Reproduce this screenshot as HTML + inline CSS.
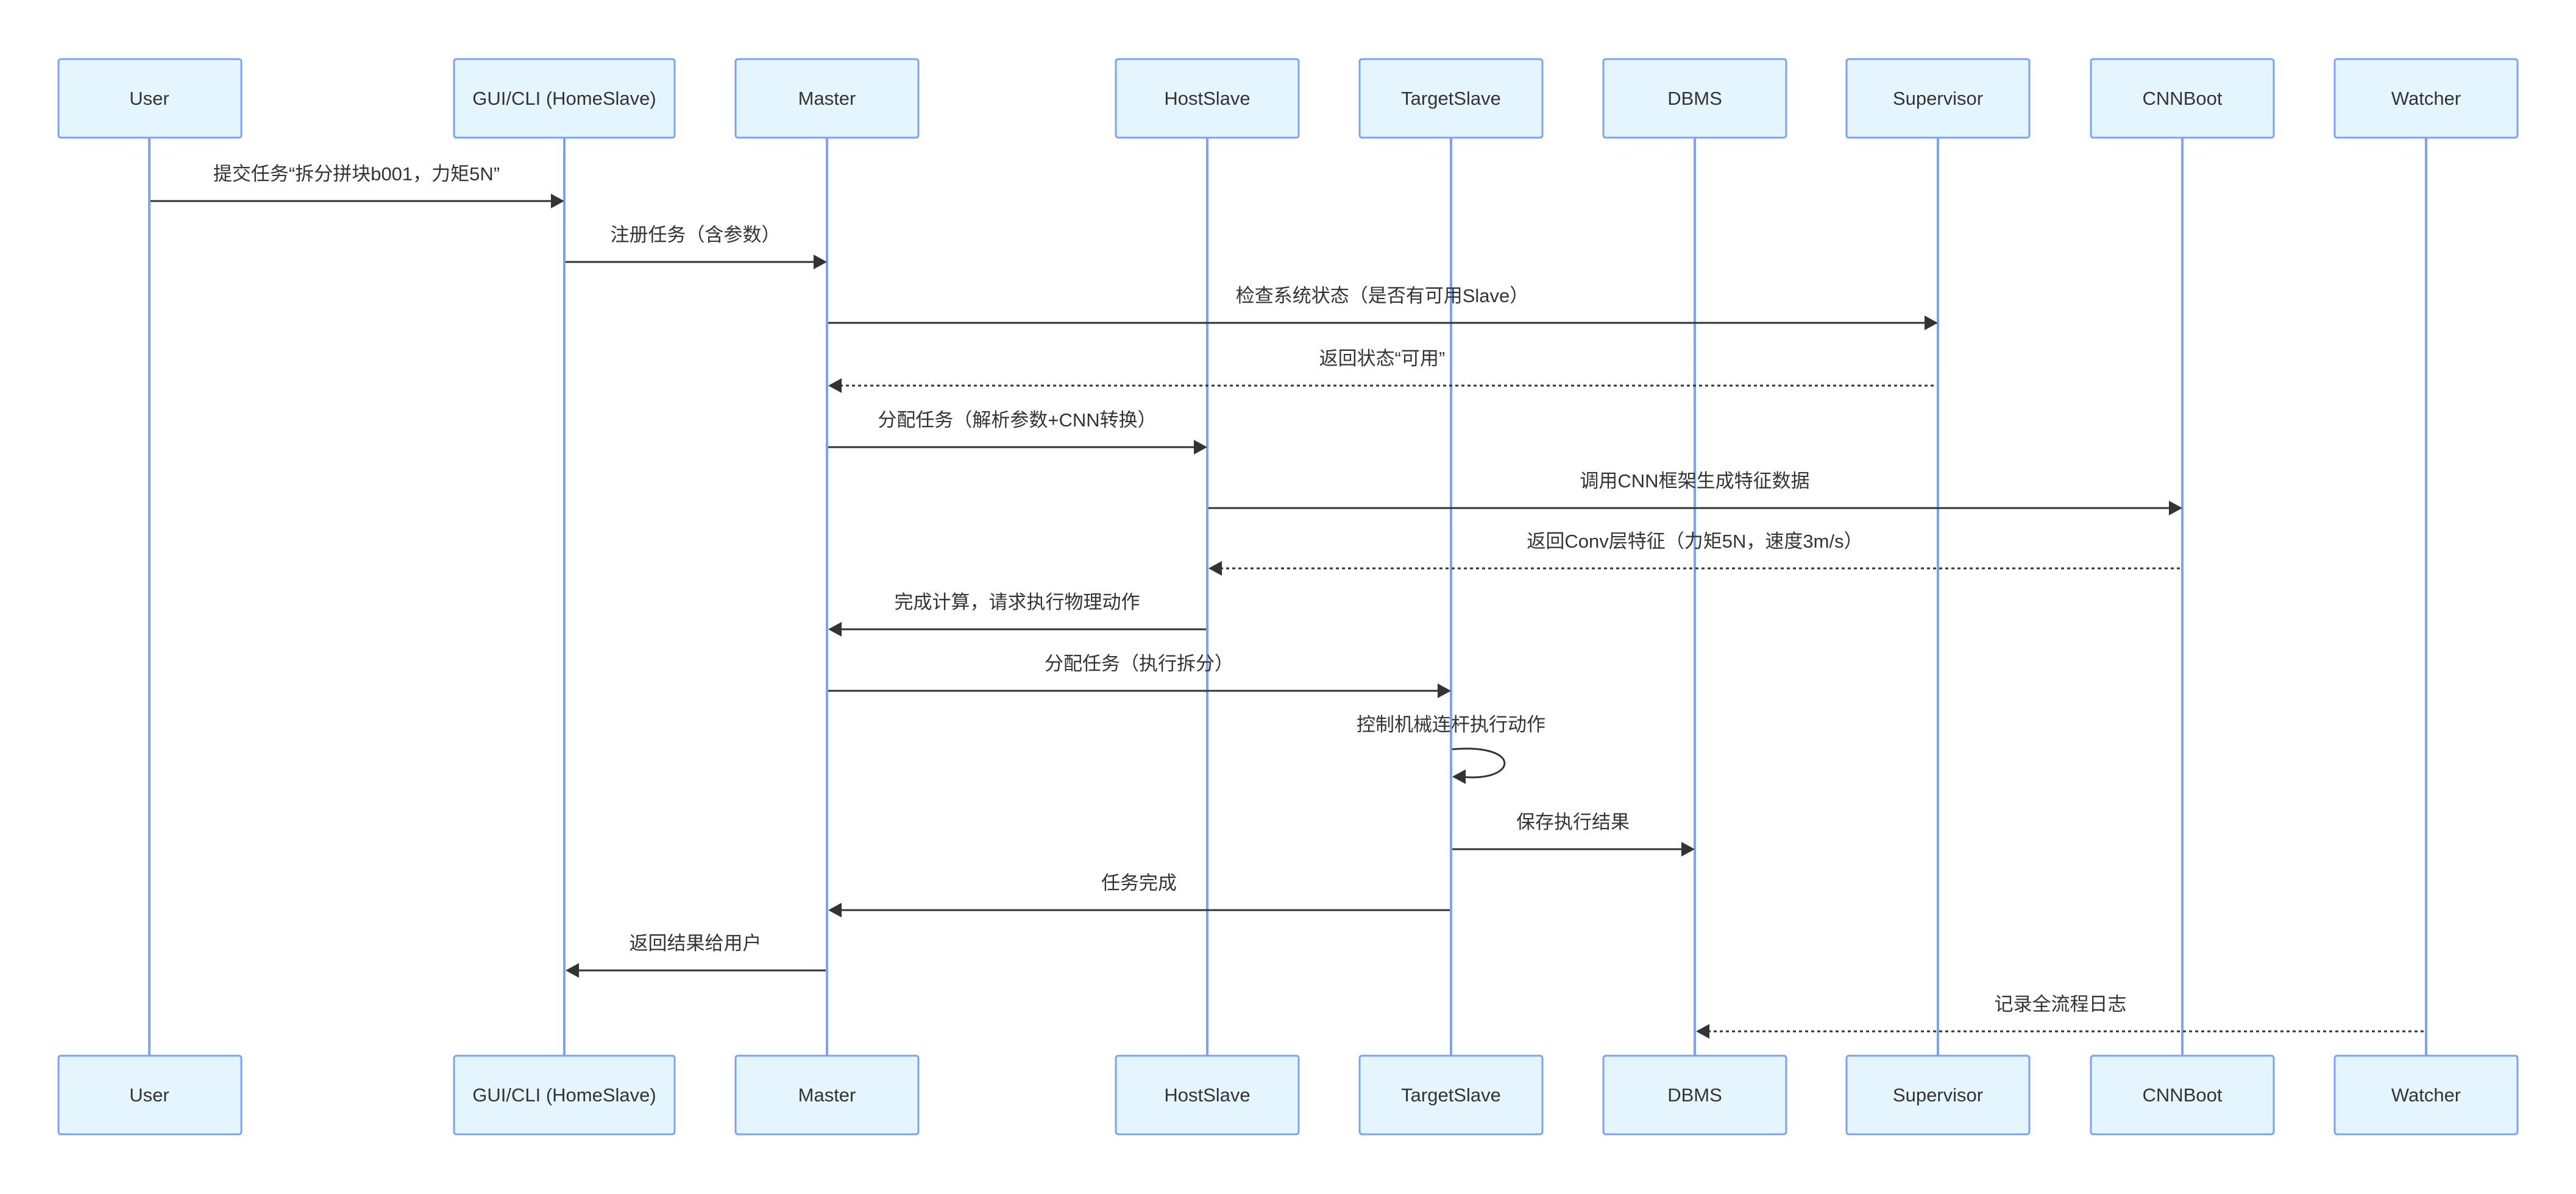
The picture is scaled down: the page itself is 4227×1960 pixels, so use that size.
<!DOCTYPE html>
<html><head><meta charset="utf-8"><style>
html,body{margin:0;padding:0;background:#fff;}
svg{display:block;}
text{font-family:"Liberation Sans","Noto Sans CJK SC",sans-serif;fill:#333;}
</style></head><body>
<svg width="4227" height="1960" viewBox="0 0 4227 1960" xmlns="http://www.w3.org/2000/svg">
<defs>
<marker id="ar" markerWidth="12" markerHeight="12" refX="11" refY="6" orient="auto" markerUnits="userSpaceOnUse" viewBox="0 0 12 12">
</marker>
</defs>
<g stroke="#7aa3f7" stroke-width="4">
<line x1="245" y1="226" x2="245" y2="1733"/>
<line x1="926" y1="226" x2="926" y2="1733"/>
<line x1="1357" y1="226" x2="1357" y2="1733"/>
<line x1="1981" y1="226" x2="1981" y2="1733"/>
<line x1="2381" y1="226" x2="2381" y2="1733"/>
<line x1="2781" y1="226" x2="2781" y2="1733"/>
<line x1="3180" y1="226" x2="3180" y2="1733"/>
<line x1="3581" y1="226" x2="3581" y2="1733"/>
<line x1="3981" y1="226" x2="3981" y2="1733"/>
</g>
<g fill="#e5f5fd" stroke="#7aa3f7" stroke-width="3">
<rect x="96" y="97" width="300" height="129" rx="4"/>
<rect x="745" y="97" width="362" height="129" rx="4"/>
<rect x="1207" y="97" width="300" height="129" rx="4"/>
<rect x="1831" y="97" width="300" height="129" rx="4"/>
<rect x="2231" y="97" width="300" height="129" rx="4"/>
<rect x="2631" y="97" width="300" height="129" rx="4"/>
<rect x="3030" y="97" width="300" height="129" rx="4"/>
<rect x="3431" y="97" width="300" height="129" rx="4"/>
<rect x="3831" y="97" width="300" height="129" rx="4"/>
<rect x="96" y="1733" width="300" height="129" rx="4"/>
<rect x="745" y="1733" width="362" height="129" rx="4"/>
<rect x="1207" y="1733" width="300" height="129" rx="4"/>
<rect x="1831" y="1733" width="300" height="129" rx="4"/>
<rect x="2231" y="1733" width="300" height="129" rx="4"/>
<rect x="2631" y="1733" width="300" height="129" rx="4"/>
<rect x="3030" y="1733" width="300" height="129" rx="4"/>
<rect x="3431" y="1733" width="300" height="129" rx="4"/>
<rect x="3831" y="1733" width="300" height="129" rx="4"/>
</g>
<g font-size="31" text-anchor="middle">
<text x="245" y="172">User</text><text x="926" y="172">GUI/CLI (HomeSlave)</text><text x="1357" y="172">Master</text><text x="1981" y="172">HostSlave</text><text x="2381" y="172">TargetSlave</text><text x="2781" y="172">DBMS</text><text x="3180" y="172">Supervisor</text><text x="3581" y="172">CNNBoot</text><text x="3981" y="172">Watcher</text>
<text x="245" y="1808">User</text><text x="926" y="1808">GUI/CLI (HomeSlave)</text><text x="1357" y="1808">Master</text><text x="1981" y="1808">HostSlave</text><text x="2381" y="1808">TargetSlave</text><text x="2781" y="1808">DBMS</text><text x="3180" y="1808">Supervisor</text><text x="3581" y="1808">CNNBoot</text><text x="3981" y="1808">Watcher</text>
</g>
<g stroke="#333" stroke-width="3" fill="none">
<line x1="247" y1="330" x2="905" y2="330"/>
<line x1="928" y1="430" x2="1336" y2="430"/>
<line x1="1359" y1="530" x2="3159" y2="530"/>
<line x1="1378" y1="633" x2="3178" y2="633" stroke-dasharray="5,5"/>
<line x1="1359" y1="734" x2="1960" y2="734"/>
<line x1="1983" y1="834" x2="3560" y2="834"/>
<line x1="2002" y1="933" x2="3579" y2="933" stroke-dasharray="5,5"/>
<line x1="1378" y1="1033" x2="1979" y2="1033"/>
<line x1="1359" y1="1134" x2="2360" y2="1134"/>
<path d="M2383,1230 C2500,1220 2490,1285 2398,1275"/>
<line x1="2383" y1="1394" x2="2760" y2="1394"/>
<line x1="1378" y1="1494" x2="2379" y2="1494"/>
<line x1="947" y1="1593" x2="1355" y2="1593"/>
<line x1="2802" y1="1693" x2="3979" y2="1693" stroke-dasharray="5,5"/>
</g>
<g fill="#333">
<polygon points="926,330 904,318 904,342"/>
<polygon points="1357,430 1335,418 1335,442"/>
<polygon points="3180,530 3158,518 3158,542"/>
<polygon points="1359,633 1381,621 1381,645"/>
<polygon points="1981,734 1959,722 1959,746"/>
<polygon points="3581,834 3559,822 3559,846"/>
<polygon points="1983,933 2005,921 2005,945"/>
<polygon points="1359,1033 1381,1021 1381,1045"/>
<polygon points="2381,1134 2359,1122 2359,1146"/>
<polygon points="2383,1275 2405,1263 2405,1287"/>
<polygon points="2781,1394 2759,1382 2759,1406"/>
<polygon points="1359,1494 1381,1482 1381,1506"/>
<polygon points="928,1593 950,1581 950,1605"/>
<polygon points="2783,1693 2805,1681 2805,1705"/>
</g>
<g font-size="31" text-anchor="middle">
<text x="585" y="296">提交任务“拆分拼块b001，力矩5N”</text>
<text x="1141" y="396">注册任务（含参数）</text>
<text x="2268" y="496">检查系统状态（是否有可用Slave）</text>
<text x="2268" y="599">返回状态“可用”</text>
<text x="1669" y="700">分配任务（解析参数+CNN转换）</text>
<text x="2781" y="800">调用CNN框架生成特征数据</text>
<text x="2781" y="899">返回Conv层特征（力矩5N，速度3m/s）</text>
<text x="1669" y="999">完成计算，请求执行物理动作</text>
<text x="1869" y="1100">分配任务（执行拆分）</text>
<text x="2381" y="1200">控制机械连杆执行动作</text>
<text x="2581" y="1360">保存执行结果</text>
<text x="1869" y="1460">任务完成</text>
<text x="1141" y="1559">返回结果给用户</text>
<text x="3381" y="1659">记录全流程日志</text>
</g>
</svg>
</body></html>
